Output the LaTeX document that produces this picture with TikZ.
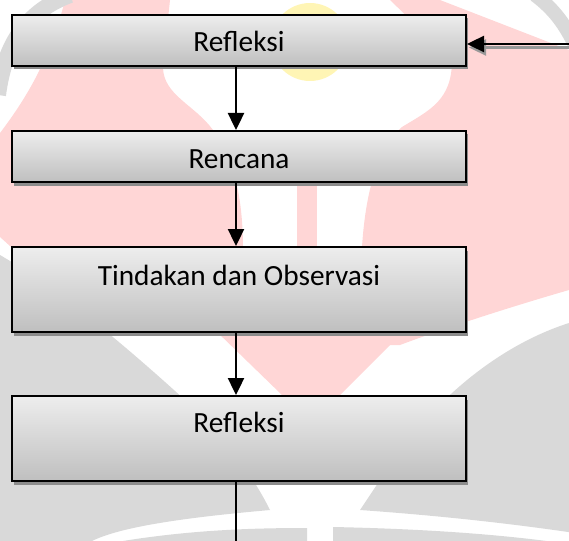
\documentclass[tikz,border=0pt]{standalone}
\usepackage{fontspec}
\setmainfont{Carlito}
\usetikzlibrary{arrows.meta,shadows,calc}
\definecolor{wmpink}{HTML}{FFD6D6}
\definecolor{wmgrey}{HTML}{D9D9D9}
\definecolor{wmyellow}{HTML}{FFF5B5}
\tikzset{
  stepbox/.style={draw=black, line width=2pt, top color=black!7, bottom color=black!25,
    minimum width=454pt, inner sep=0pt,
    drop shadow={shadow xshift=2pt, shadow yshift=-3.5pt, fill=black!45, opacity=1}},
  lbl/.style={anchor=base, inner sep=0pt, font=\fontsize{29.3}{35}\selectfont},
  flow/.style={line width=2.4pt, -{Triangle[width=16pt,length=17pt]}},
}
\begin{document}
\begin{tikzpicture}[x=1pt,y=-1pt]
\useasboundingbox (0,0) rectangle (569,540);
% watermark
\begin{scope}
\clip (0,0) rectangle (569,540);
\fill[wmyellow] (310,42) circle[radius=39];
\fill[wmpink] (65,0) -- (170,0) -- (163,67) .. controls (163,95) and (195,105) .. (213,130)
  .. controls (235,160) and (243,200) .. (243,250) -- (243,320) -- (20,255) -- (0,237)
  -- (0,133) .. controls (25,100) and (50,60) .. (65,0) -- cycle;
\fill[wmpink] (390,0) -- (440,0) -- (569,50) -- (569,290) .. controls (500,310) and (440,330) .. (400,345)
  -- (360,345) -- (362,247) .. controls (365,200) and (375,150) .. (402,127)
  .. controls (430,110) and (452,100) .. (452,60) -- cycle;
\fill[wmpink] (215,330) -- (405,330) -- (340,395) -- (282,395) -- cycle;
\fill[wmpink] (297,170) rectangle (317,250);
\fill[wmgrey] (0,255) .. controls (60,290) and (130,350) .. (185,400)
  .. controls (225,440) and (250,470) .. (270,510)
  .. controls (180,518) and (110,528) .. (85,545) -- (0,545) -- cycle;
\fill[wmgrey] (100,545) .. controls (180,530) and (250,528) .. (307,528) -- (307,545) -- cycle;
\fill[wmgrey] (333,527) .. controls (430,529) and (510,535) .. (575,545) -- (333,545) -- cycle;
\fill[wmgrey] (569,323) .. controls (500,345) and (430,400) .. (380,480) -- (360,510)
  .. controls (430,515) and (500,522) .. (575,533) -- cycle;
\draw[wmgrey, line width=16pt] (70,-5) .. controls (30,10) and (5,40) .. (-2,95);
\draw[wmgrey, line width=14pt] (535,-5) .. controls (555,10) and (565,25) .. (575,45);
\end{scope}
% boxes
\node[stepbox, minimum height=51pt] (b1) at (239,40.5) {};
\node[stepbox, minimum height=51pt] (b2) at (239,156.5) {};
\node[stepbox, minimum height=85pt] (b3) at (239,289.5) {};
\node[stepbox, minimum height=85pt] (b4) at (239,438.5) {};
\node[lbl] (t1) at ($(b1.north)+(0,38)$) {Refleksi};
\node[lbl] (t2) at ($(b2.north)+(0,38)$) {Rencana};
\node[lbl] (t3) at ($(b3.north)+(0,39)$) {Tindakan dan Observasi};
\node[lbl] (t4) at ($(b4.north)+(0,37.5)$) {Refleksi};
% connectors
\coordinate (ax) at (236,0);
\coordinate (rin) at (572,44);
\coordinate (bend) at (236,545);
\draw[flow] (b1.south -| ax) -- (b2.north -| ax);
\draw[flow] (b2.south -| ax) -- (b3.north -| ax);
\draw[flow] (b3.south -| ax) -- (b4.north -| ax);
\draw[line width=2.4pt] (b4.south -| ax) -- (bend);
\draw[flow, black!40] ($(rin)+(2,3.5)$) -- ($(b1.east |- rin)+(2,3.5)$);
\draw[flow] (rin) -- (b1.east |- rin);
\end{tikzpicture}
\end{document}
